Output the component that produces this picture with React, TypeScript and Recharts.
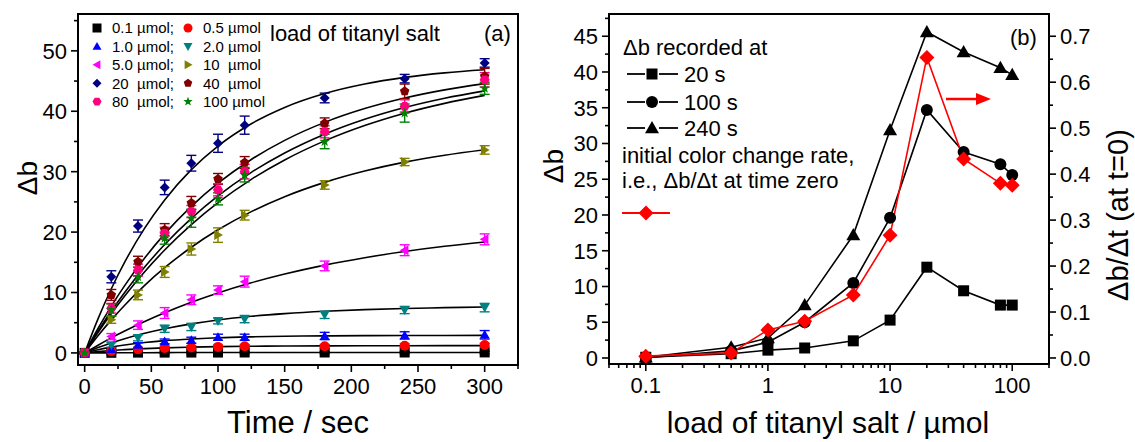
import React from 'react';
import { ComposedChart, Line, Scatter, ErrorBar, XAxis, YAxis } from 'recharts';

const FONT = 'Liberation Sans, Arial, Helvetica, sans-serif';

// ---- panel (a): delta b vs time, one series per titanyl salt load ----
const times = [0, 20, 40, 60, 80, 100, 120, 180, 240, 300];
const load01 = [0, 0.02, 0.05, 0.05, 0.06, 0.06, 0.07, 0.07, 0.07, 0.08];
const load05 = [0, 0.3, 0.6, 0.8, 0.9, 1.0, 1.1, 1.1, 1.2, 1.3];
const load1 = [0, 0.6, 1.3, 1.9, 2.1, 2.6, 2.6, 2.8, 2.9, 3.0];
const load2 = [0, 1.3, 2.5, 4.0, 4.3, 5.3, 5.6, 6.3, 7.1, 7.5];
const load5 = [0, 2.7, 4.6, 6.6, 8.8, 10.4, 11.8, 14.4, 17.0, 18.8];
const load10 = [0, 5.5, 9.6, 13.4, 17.2, 19.5, 22.8, 27.8, 31.6, 33.6];
const load20 = [0, 12.6, 21.0, 27.4, 31.4, 34.7, 37.7, 42.2, 45.4, 48.0];
const load40 = [0, 9.6, 15.1, 20.4, 24.8, 28.8, 31.5, 38.0, 43.3, 45.8];
const load80 = [0, 7.4, 13.7, 19.8, 23.4, 27.0, 30.0, 36.6, 40.8, 45.2];
const load100 = [0, 7.1, 12.6, 19.0, 22.3, 25.5, 29.5, 35.0, 39.7, 43.8];

const err01 = [0.1, 0.2, 0.2, 0.2, 0.2, 0.2, 0.2, 0.2, 0.2, 0.2];
const err05 = [0.1, 0.2, 0.3, 0.3, 0.3, 0.3, 0.3, 0.3, 0.3, 0.3];
const err1 = [0.1, 0.3, 0.4, 0.4, 0.5, 0.5, 0.5, 0.6, 0.6, 0.7];
const err2 = [0.1, 0.4, 0.5, 0.6, 0.6, 0.5, 0.6, 0.6, 0.6, 0.7];
const err5 = [0.1, 0.5, 0.7, 0.9, 0.8, 0.7, 0.9, 0.8, 0.9, 0.9];
const err10 = [0.1, 0.6, 0.8, 0.9, 1.0, 1.2, 0.8, 0.7, 0.6, 0.7];
const err20 = [0.2, 1.0, 1.0, 1.2, 1.3, 1.5, 1.5, 0.8, 0.7, 0.7];
const err40 = [0.2, 0.9, 0.9, 1.0, 1.1, 0.9, 1.0, 0.9, 1.2, 1.3];
const err80 = [0.2, 0.8, 1.0, 1.0, 1.0, 1.0, 1.2, 1.0, 1.1, 1.2];
const err100 = [0.2, 1.0, 1.0, 1.0, 1.5, 1.0, 1.2, 1.2, 1.5, 1.0];

// fitted curves
const fitTimes = [0, 10, 20, 30, 45, 60, 80, 100, 125, 150, 180, 210, 240, 270, 300];
const fit01 = [0, 0.01, 0.02, 0.03, 0.04, 0.05, 0.06, 0.06, 0.07, 0.07, 0.08, 0.08, 0.08, 0.08, 0.08];
const fit05 = [0, 0.22, 0.4, 0.54, 0.71, 0.84, 0.96, 1.04, 1.1, 1.14, 1.17, 1.18, 1.19, 1.2, 1.2];
const fit1 = [0, 0.53, 0.96, 1.31, 1.72, 2.03, 2.31, 2.51, 2.66, 2.76, 2.82, 2.86, 2.88, 2.89, 2.9];
const fit2 = [0, 0.88, 1.66, 2.36, 3.25, 4.0, 4.81, 5.45, 6.06, 6.51, 6.9, 7.17, 7.36, 7.49, 7.59];
const fit5 = [0, 1.28, 2.49, 3.62, 5.2, 6.65, 8.39, 9.93, 11.61, 13.05, 14.53, 15.76, 16.79, 17.65, 18.36];
const fit10 = [0, 2.85, 5.47, 7.9, 11.19, 14.1, 17.49, 20.38, 23.39, 25.86, 28.23, 30.1, 31.58, 32.73, 33.64];
const fit20 = [0, 5.64, 10.62, 15.01, 20.65, 25.33, 30.34, 34.25, 37.94, 40.64, 42.94, 44.52, 45.61, 46.36, 46.87];
const fit40 = [0, 4.04, 7.75, 11.14, 15.7, 19.7, 24.26, 28.09, 32.02, 35.18, 38.16, 40.44, 42.19, 43.54, 44.57];
const fit80 = [0, 3.6, 6.93, 10.01, 14.21, 17.94, 22.28, 26.0, 29.89, 33.1, 36.21, 38.67, 40.62, 42.16, 43.38];
const fit100 = [0, 3.38, 6.52, 9.44, 13.44, 17.03, 21.23, 24.87, 28.73, 31.94, 35.1, 37.64, 39.68, 41.31, 42.63];

const timeTicks = [0, 25, 50, 75, 100, 125, 150, 175, 200, 225, 250, 275, 300, 325];
const timeMajors = [0, 50, 100, 150, 200, 250, 300];
const dbTicksA = [0, 5, 10, 15, 20, 25, 30, 35, 40, 45, 50, 55];
const dbMajorsA = [0, 10, 20, 30, 40, 50];

// ---- panel (b): delta b vs load ----
const loads = [0.1, 0.5, 1, 2, 5, 10, 20, 40, 80, 100];
const db20s = [0.1, 0.6, 1.1, 1.4, 2.4, 5.3, 12.7, 9.4, 7.4, 7.4];
const db100s = [0.05, 1.0, 2.2, 5.0, 10.5, 19.6, 34.7, 28.8, 27.1, 25.6];
const db240s = [0.1, 1.5, 2.8, 7.4, 17.2, 31.9, 45.6, 42.8, 40.6, 39.6];
const initRate = [0.004, 0.011, 0.061, 0.08, 0.137, 0.267, 0.654, 0.433, 0.38, 0.376];

const loadTicks = [0.05, 0.06, 0.07, 0.08, 0.09, 0.1, 0.2, 0.3, 0.4, 0.5, 0.6, 0.7, 0.8, 0.9, 1, 2, 3, 4, 5, 6, 7, 8, 9, 10, 20, 30, 40, 50, 60, 70, 80, 90, 100, 200];
const loadMajors = [0.1, 1, 10, 100];
const dbTicksB = [0, 2.5, 5, 7.5, 10, 12.5, 15, 17.5, 20, 22.5, 25, 27.5, 30, 32.5, 35, 37.5, 40, 42.5, 45, 47.5];
const dbMajorsB = [0, 5, 10, 15, 20, 25, 30, 35, 40, 45];
const rateTicks = [0, 0.05, 0.1, 0.15, 0.2, 0.25, 0.3, 0.35, 0.4, 0.45, 0.5, 0.55, 0.6, 0.65, 0.7];
const rateMajors = [0, 0.1, 0.2, 0.3, 0.4, 0.5, 0.6, 0.7];

type Kind = 'square' | 'circle' | 'up' | 'down' | 'left' | 'right' | 'diamond' | 'pentagon' | 'hexagon' | 'star';

function polyPoints(cx: number, cy: number, r: number, n: number, rot: number, inner?: number) {
  const pts: string[] = [];
  const count = inner ? n * 2 : n;
  for (let i = 0; i < count; i++) {
    const rr = inner && i % 2 === 1 ? inner : r;
    const a = rot + (i * Math.PI * 2) / count;
    pts.push(`${cx + rr * Math.cos(a)},${cy + rr * Math.sin(a)}`);
  }
  return pts.join(' ');
}

function Marker({ kind, cx, cy, size, fill }: { kind: Kind; cx?: number; cy?: number; size: number; fill: string }) {
  if (cx == null || cy == null || isNaN(cx) || isNaN(cy)) return null;
  const r = size / 2;
  switch (kind) {
    case 'square':
      return <rect x={cx - r} y={cy - r} width={size} height={size} fill={fill} />;
    case 'circle':
      return <circle cx={cx} cy={cy} r={r} fill={fill} />;
    case 'up':
      return <polygon points={`${cx},${cy - r} ${cx + r},${cy + r * 0.75} ${cx - r},${cy + r * 0.75}`} fill={fill} />;
    case 'down':
      return <polygon points={`${cx},${cy + r} ${cx + r},${cy - r * 0.75} ${cx - r},${cy - r * 0.75}`} fill={fill} />;
    case 'left':
      return <polygon points={`${cx - r},${cy} ${cx + r * 0.75},${cy - r} ${cx + r * 0.75},${cy + r}`} fill={fill} />;
    case 'right':
      return <polygon points={`${cx + r},${cy} ${cx - r * 0.75},${cy - r} ${cx - r * 0.75},${cy + r}`} fill={fill} />;
    case 'diamond':
      return <polygon points={`${cx},${cy - r} ${cx + r},${cy} ${cx},${cy + r} ${cx - r},${cy}`} fill={fill} />;
    case 'pentagon':
      return <polygon points={polyPoints(cx, cy, r, 5, -Math.PI / 2)} fill={fill} />;
    case 'hexagon':
      return <polygon points={polyPoints(cx, cy, r, 6, 0)} fill={fill} />;
    case 'star':
      return <polygon points={polyPoints(cx, cy, r * 1.1, 5, -Math.PI / 2, r * 0.45)} fill={fill} />;
  }
  return null;
}

const seriesA = [
  { name: '0.1', color: '#000000', kind: 'square' as Kind, pts: load01, err: err01, fit: fit01 },
  { name: '0.5', color: '#ff0000', kind: 'circle' as Kind, pts: load05, err: err05, fit: fit05 },
  { name: '1.0', color: '#0000ff', kind: 'up' as Kind, pts: load1, err: err1, fit: fit1 },
  { name: '2.0', color: '#008080', kind: 'down' as Kind, pts: load2, err: err2, fit: fit2 },
  { name: '5.0', color: '#ff00ff', kind: 'left' as Kind, pts: load5, err: err5, fit: fit5 },
  { name: '10', color: '#808000', kind: 'right' as Kind, pts: load10, err: err10, fit: fit10 },
  { name: '20', color: '#000080', kind: 'diamond' as Kind, pts: load20, err: err20, fit: fit20 },
  { name: '40', color: '#800000', kind: 'pentagon' as Kind, pts: load40, err: err40, fit: fit40 },
  { name: '80', color: '#ff0080', kind: 'hexagon' as Kind, pts: load80, err: err80, fit: fit80 },
  { name: '100', color: '#008000', kind: 'star' as Kind, pts: load100, err: err100, fit: fit100 },
];

const rowsB = loads.map((x, i) => ({ x, a: db20s[i], b: db100s[i], c: db240s[i], r: initRate[i] }));

const isMajor = (list: number[], v: number) => list.some((m) => Math.abs(m - v) < 1e-9);

function makeTick(orient: 'bottom' | 'left' | 'right', majors: number[], fmt: (v: number) => string) {
  return (props: any) => {
    const { x, y, payload } = props;
    const v = payload.value;
    const major = isMajor(majors, v);
    const len = major ? 7 : 4;
    const txt = { fontFamily: FONT, fontSize: 22, fill: '#000' };
    if (orient === 'bottom') {
      return (
        <g>
          <line x1={x} x2={x} y1={y} y2={y + len} stroke="#000" strokeWidth={1.6} />
          {major && <text x={x} y={y + 11} dy="0.8em" textAnchor="middle" {...txt}>{fmt(v)}</text>}
        </g>
      );
    }
    if (orient === 'left') {
      return (
        <g>
          <line x1={x} x2={x - len} y1={y} y2={y} stroke="#000" strokeWidth={1.6} />
          {major && <text x={x - 11} y={y} dy="0.36em" textAnchor="end" {...txt}>{fmt(v)}</text>}
        </g>
      );
    }
    return (
      <g>
        <line x1={x} x2={x + len} y1={y} y2={y} stroke="#000" strokeWidth={1.6} />
        {major && <text x={x + 11} y={y} dy="0.36em" textAnchor="start" {...txt}>{fmt(v)}</text>}
      </g>
    );
  };
}

const legendA = [
  [seriesA[0], '0.1 µmol;'], [seriesA[1], '0.5 µmol'],
  [seriesA[2], '1.0 µmol;'], [seriesA[3], '2.0 µmol'],
  [seriesA[4], '5.0 µmol;'], [seriesA[5], '10  µmol'],
  [seriesA[6], '20  µmol;'], [seriesA[7], '40  µmol'],
  [seriesA[8], '80  µmol;'], [seriesA[9], '100 µmol'],
] as const;

export default function App() {
  const t = { fontFamily: FONT, fill: '#000' };
  return (
    <div style={{ position: 'absolute', left: 0, top: 0, width: 1135, height: 442, background: '#fff' }}>
      <div style={{ position: 'absolute', left: 0, top: 0 }}>
        <ComposedChart width={540} height={442} margin={{ top: 14, right: 22, bottom: 37, left: 18 }}>
          <XAxis dataKey="t" type="number" domain={[-5, 325]} allowDataOverflow ticks={timeTicks} interval={0}
            axisLine={false} tickLine={false} tickSize={0} tickMargin={0} height={40}
            tick={makeTick('bottom', timeMajors, (v) => String(v))} />
          <YAxis dataKey="v" type="number" domain={[-2, 56.1]} allowDataOverflow ticks={dbTicksA} interval={0}
            axisLine={false} tickLine={false} tickSize={0} tickMargin={0} width={60}
            tick={makeTick('left', dbMajorsA, (v) => String(v))} />
          {seriesA.map((s) => (
            <Line key={'fit' + s.name} data={fitTimes.map((tt, i) => ({ t: tt, v: s.fit[i] }))} dataKey="v"
              type="monotone" stroke="#000" strokeWidth={1.6} dot={false} isAnimationActive={false} />
          ))}
          {seriesA.map((s) => (
            <Scatter key={'pts' + s.name} data={times.map((tt, i) => ({ t: tt, v: s.pts[i], e: s.err[i] }))}
              dataKey="v" isAnimationActive={false}
              shape={(p: any) => <Marker kind={s.kind} cx={p.cx} cy={p.cy} size={10} fill={s.color} />}>
              <ErrorBar dataKey="e" direction="y" width={5} stroke={s.color} strokeWidth={1.4} />
            </Scatter>
          ))}
        </ComposedChart>
      </div>
      <div style={{ position: 'absolute', left: 540, top: 0 }}>
        <ComposedChart width={595} height={442} data={rowsB} margin={{ top: 14, right: 26, bottom: 38, left: 19 }}>
          <XAxis dataKey="x" type="number" scale="log" domain={[0.05, 200]} allowDataOverflow ticks={loadTicks} interval={0}
            axisLine={false} tickLine={false} tickSize={0} tickMargin={0} height={40}
            tick={makeTick('bottom', loadMajors, (v) => String(v))} />
          <YAxis yAxisId="left" type="number" domain={[-0.84, 48.11]} allowDataOverflow ticks={dbTicksB} interval={0}
            axisLine={false} tickLine={false} tickSize={0} tickMargin={0} width={50}
            tick={makeTick('left', dbMajorsB, (v) => String(v))} />
          <YAxis yAxisId="right" orientation="right" type="number" domain={[-0.0131, 0.7484]} allowDataOverflow
            ticks={rateTicks} interval={0} axisLine={false} tickLine={false} tickSize={0} tickMargin={0} width={60}
            tick={makeTick('right', rateMajors, (v) => v.toFixed(1))} />
          <Line yAxisId="left" dataKey="a" type="linear" stroke="#000" strokeWidth={1.6} isAnimationActive={false}
            dot={(p: any) => <Marker key={'a' + p.index} kind="square" cx={p.cx} cy={p.cy} size={11} fill="#000" />} />
          <Line yAxisId="left" dataKey="b" type="linear" stroke="#000" strokeWidth={1.6} isAnimationActive={false}
            dot={(p: any) => <Marker key={'b' + p.index} kind="circle" cx={p.cx} cy={p.cy} size={12} fill="#000" />} />
          <Line yAxisId="left" dataKey="c" type="linear" stroke="#000" strokeWidth={1.6} isAnimationActive={false}
            dot={(p: any) => <Marker key={'c' + p.index} kind="up" cx={p.cx} cy={p.cy} size={14} fill="#000" />} />
          <Line yAxisId="right" dataKey="r" type="linear" stroke="#ff0000" strokeWidth={1.6} isAnimationActive={false}
            dot={(p: any) => <Marker key={'r' + p.index} kind="diamond" cx={p.cx} cy={p.cy} size={15} fill="#ff0000" />} />
        </ComposedChart>
      </div>
      <svg width={1135} height={442} style={{ position: 'absolute', left: 0, top: 0, pointerEvents: 'none' }}>
        <rect x={78} y={14} width={440} height={351} fill="none" stroke="#000" strokeWidth={2} />
        <rect x={609} y={14} width={440} height={350} fill="none" stroke="#000" strokeWidth={2} />

        {/* panel (a) legend */}
        {legendA.map(([s, label], i) => {
          const col = i % 2;
          const row = Math.floor(i / 2);
          const y = 28 + row * 18.4;
          const mx = col === 0 ? 97 : 188;
          return (
            <g key={label}>
              <Marker kind={s.kind} cx={mx} cy={y} size={9} fill={s.color} />
              <text x={mx + 15} y={y} dy="0.36em" fontSize={15} style={{ whiteSpace: 'pre' }} {...t}>{label}</text>
            </g>
          );
        })}
        <text x={270} y={33} dy="0.36em" fontSize={22} {...t}>load of titanyl salt</text>
        <text x={484} y={33} dy="0.36em" fontSize={22} {...t}>(a)</text>
        <text x={298} y={422} dy="0.36em" textAnchor="middle" fontSize={31} {...t}>Time / sec</text>
        <text x={27} y={178} dy="0.36em" textAnchor="middle" fontSize={28} transform="rotate(-90 27 178)" {...t}>Δb</text>

        {/* panel (b) legend */}
        <text x={623} y={47} dy="0.36em" fontSize={22} {...t}>Δb recorded at</text>
        {([['square', 11, '20 s', 74], ['circle', 12, '100 s', 102], ['up', 14, '240 s', 128]] as const).map(([k, sz, lab, y]) => (
          <g key={lab}>
            <line x1={627} x2={645} y1={y} y2={y} stroke="#000" strokeWidth={1.8} />
            <line x1={659} x2={678} y1={y} y2={y} stroke="#000" strokeWidth={1.8} />
            <Marker kind={k as Kind} cx={652} cy={y} size={sz} fill="#000" />
            <text x={684} y={y} dy="0.36em" fontSize={22} {...t}>{lab}</text>
          </g>
        ))}
        <text x={622} y={155} dy="0.36em" fontSize={22} {...t}>initial color change rate,</text>
        <text x={622} y={180} dy="0.36em" fontSize={22} {...t}>i.e., Δb/Δt at time zero</text>
        <line x1={622} x2={670} y1={213} y2={213} stroke="#ff0000" strokeWidth={1.8} />
        <Marker kind="diamond" cx={646} cy={213} size={15} fill="#ff0000" />
        <text x={1010} y={37} dy="0.36em" fontSize={22} {...t}>(b)</text>
        <line x1={946} x2={978} y1={99} y2={99} stroke="#ff0000" strokeWidth={2.5} />
        <polygon points="976,93 991,99 976,105" fill="#ff0000" />
        <text x={828} y={422} dy="0.36em" textAnchor="middle" fontSize={30} {...t}>load of titanyl salt / µmol</text>
        <text x={553} y={166} dy="0.36em" textAnchor="middle" fontSize={28} transform="rotate(-90 553 166)" {...t}>Δb</text>
        <text x={1118} y={215} dy="0.36em" textAnchor="middle" fontSize={29} transform="rotate(-90 1118 215)" {...t}>Δb/Δt (at t=0)</text>
      </svg>
    </div>
  );
}
